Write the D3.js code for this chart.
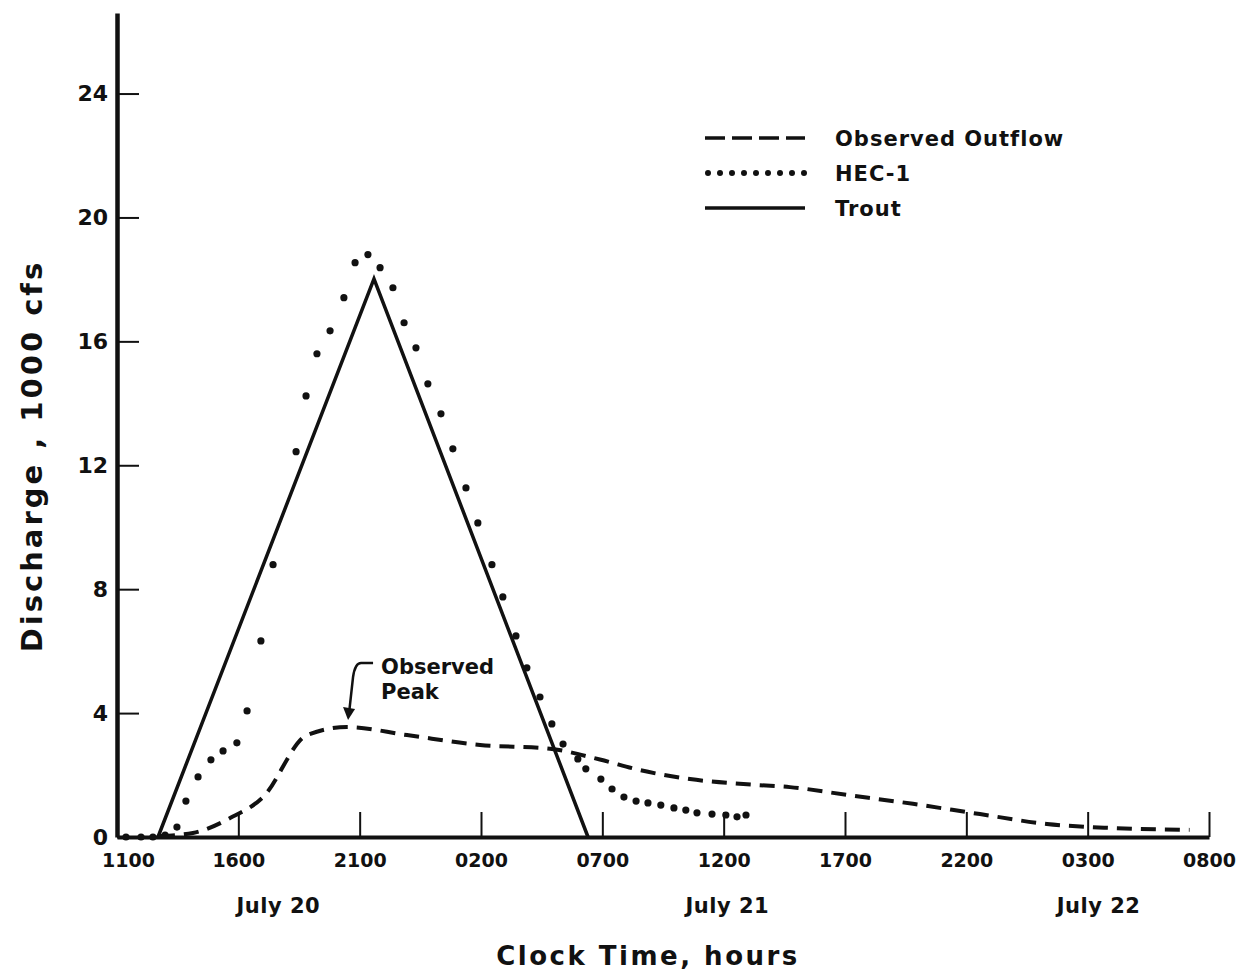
<!DOCTYPE html>
<html>
<head>
<meta charset="utf-8">
<script src="https://cdn.jsdelivr.net/npm/d3@7"></script>
<style>
  body { margin: 0; background: #fff; }
  text { font-family: "DejaVu Sans", sans-serif; font-weight: bold; fill: #111; }
</style>
</head>
<body>
<svg id="svg" width="1244" height="975"></svg>
<script>
// hours after 1100 July 20
var tickHours = [0, 5, 10, 15, 20, 25, 30, 35, 40, 45];
var tickLabels = ["1100", "1600", "2100", "0200", "0700", "1200", "1700", "2200", "0300", "0800"];
var yTicks = [0, 4, 8, 12, 16, 20, 24];
var days = ["July 20", "July 21", "July 22"];
var dayHours = [6.65, 25.15, 40.45];

// Observed outflow, 1000 cfs
var obsTime = [1.77, 3.13, 4.66, 6.02, 7.83, 9.48, 11.95, 14.96, 17.84, 19.9, 21.55, 23.61, 26.37, 27.73, 30.08, 32.8, 35.56, 38.32, 41.04, 44.2];
var obsFlow = [0.03, 0.13, 0.61, 1.29, 3.29, 3.55, 3.29, 2.97, 2.85, 2.5, 2.16, 1.87, 1.68, 1.61, 1.36, 1.07, 0.74, 0.42, 0.29, 0.23];

// HEC-1
var hecTime = [0.37, 0.99, 1.48, 1.98, 2.47, 2.84, 3.34, 3.87, 4.37, 4.94, 5.36, 5.93, 6.43, 7.38, 7.79, 8.24, 8.78, 9.35, 9.81, 10.34, 10.84, 11.37, 11.83, 12.32, 12.81, 13.35, 13.84, 14.38, 14.87, 15.45, 15.9, 16.44, 16.89, 17.43, 17.92, 18.38, 18.99, 19.32, 19.94, 20.4, 20.89, 21.39, 21.88, 22.41, 22.95, 23.44, 23.9, 24.52, 25.09, 25.55, 25.92];
var hecFlow = [0, 0, 0, 0.06, 0.32, 1.16, 1.94, 2.49, 2.78, 3.04, 4.07, 6.33, 8.79, 12.44, 14.24, 15.6, 16.34, 17.41, 18.54, 18.8, 18.38, 17.73, 16.6, 15.79, 14.63, 13.66, 12.53, 11.27, 10.14, 8.79, 7.75, 6.49, 5.46, 4.52, 3.65, 3.0, 2.52, 2.2, 1.87, 1.55, 1.29, 1.16, 1.1, 1.03, 0.94, 0.87, 0.78, 0.74, 0.71, 0.65, 0.71];

// Trout
var troutTime = [1.69, 10.59, 19.41];
var troutFlow = [0, 18.02, 0];

var svg = d3.select("#svg");

var x = d3.scaleLinear().domain([0, 45]).range([117, 1209]);
var y = d3.scaleLinear().domain([0, 26.6]).range([837, 13]);

// axes
var xAxis = svg.append("g")
    .attr("transform", "translate(0," + y(0) + ")")
    .call(d3.axisBottom(x).tickValues(tickHours)
        .tickFormat(function(d, i) { return tickLabels[i]; })
        .tickSizeInner(-25).tickSizeOuter(0).tickPadding(17));
xAxis.select(".domain").attr("stroke-width", 4).attr("stroke", "#111");
xAxis.selectAll(".tick line").attr("stroke-width", 2).attr("stroke", "#111");
xAxis.selectAll("text").attr("font-size", "19px").attr("font-family", "DejaVu Sans").attr("font-weight", "bold").attr("fill", "#111");
xAxis.selectAll(".tick text").filter(function(d) { return d === 0; }).attr("dx", 11);

var yAxis = svg.append("g")
    .attr("transform", "translate(" + x(0) + ",0)")
    .call(d3.axisLeft(y).tickValues(yTicks)
        .tickSizeInner(-22).tickSizeOuter(0).tickPadding(9));
yAxis.select(".domain").attr("stroke-width", 4.5).attr("stroke", "#111");
yAxis.selectAll(".tick line").attr("stroke-width", 2).attr("stroke", "#111");
yAxis.selectAll("text").attr("font-size", "22px").attr("font-family", "DejaVu Sans").attr("font-weight", "bold").attr("fill", "#111");

// day labels
svg.selectAll(".day").data(days).enter().append("text")
    .attr("class", "day")
    .attr("x", function(d, i) { return x(dayHours[i]); })
    .attr("y", 913)
    .attr("text-anchor", "middle")
    .attr("font-size", "21px")
    .attr("letter-spacing", "0.5px")
    .text(function(d) { return d; });

// titles
svg.append("text")
    .attr("x", 648).attr("y", 965)
    .attr("text-anchor", "middle")
    .attr("font-size", "26px")
    .attr("letter-spacing", "2.5px")
    .text("Clock Time, hours");

svg.append("text")
    .attr("transform", "translate(42,456) rotate(-90)")
    .attr("text-anchor", "middle")
    .attr("font-size", "29px")
    .attr("letter-spacing", "3px")
    .text("Discharge , 1000 cfs");

// series
var obs = obsTime.map(function(t, i) { return [t, obsFlow[i]]; });
var trout = troutTime.map(function(t, i) { return [t, troutFlow[i]]; });
var hec = hecTime.map(function(t, i) { return [t, hecFlow[i]]; });

var line = d3.line()
    .x(function(d) { return x(d[0]); })
    .y(function(d) { return y(d[1]); });

svg.append("path")
    .attr("d", line.curve(d3.curveMonotoneX)(obs))
    .attr("fill", "none")
    .attr("stroke", "#111")
    .attr("stroke-width", 4)
    .attr("stroke-dasharray", "15,9");

svg.append("path")
    .attr("d", line.curve(d3.curveLinear)(trout))
    .attr("fill", "none")
    .attr("stroke", "#111")
    .attr("stroke-width", 3.5)
    .attr("stroke-linejoin", "miter");

svg.selectAll(".hec").data(hec).enter().append("circle")
    .attr("class", "hec")
    .attr("cx", function(d) { return x(d[0]); })
    .attr("cy", function(d) { return y(d[1]); })
    .attr("r", 3.6)
    .attr("fill", "#111");

// legend
var legend = svg.append("g");
var lx0 = 705, lx1 = 805, ly = [138, 173, 208];
legend.append("line").attr("x1", lx0).attr("x2", lx1).attr("y1", ly[0]).attr("y2", ly[0])
    .attr("stroke", "#111").attr("stroke-width", 3.5).attr("stroke-dasharray", "20,7");
legend.selectAll("circle").data(d3.range(9)).enter().append("circle")
    .attr("cx", function(d) { return lx0 + 3 + d * 12; })
    .attr("cy", ly[1])
    .attr("r", 3)
    .attr("fill", "#111");
legend.append("line").attr("x1", lx0).attr("x2", lx1).attr("y1", ly[2]).attr("y2", ly[2])
    .attr("stroke", "#111").attr("stroke-width", 3.5);
legend.selectAll("text").data(["Observed Outflow", "HEC-1", "Trout"]).enter().append("text")
    .attr("x", 835)
    .attr("y", function(d, i) { return ly[i] + 8; })
    .attr("font-size", "21px")
    .attr("letter-spacing", "1px")
    .text(function(d) { return d; });

// observed peak annotation
var px = x(9.48), py = y(3.55);
svg.append("path")
    .attr("d", "M" + (px + 26) + "," + (py - 64) + " L" + (px + 14) + "," + (py - 64) +
        " Q" + (px + 8) + "," + (py - 64) + " " + (px + 6) + "," + (py - 50) + " L" + (px + 2) + "," + (py - 14))
    .attr("fill", "none").attr("stroke", "#111").attr("stroke-width", 2.5);
svg.append("path")
    .attr("d", "M" + (px - 4) + "," + (py - 20) + " L" + (px + 8) + "," + (py - 18) + " L" + (px + 1) + "," + (py - 7) + "Z")
    .attr("fill", "#111");
svg.append("text").attr("x", px + 34).attr("y", py - 53).attr("font-size", "21px").text("Observed");
svg.append("text").attr("x", px + 34).attr("y", py - 28).attr("font-size", "21px").text("Peak");
</script>
</body>
</html>
